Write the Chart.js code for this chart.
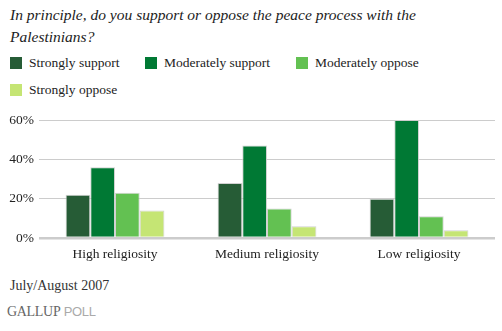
<!DOCTYPE html>
<html>
<head>
<meta charset="utf-8">
<script src="https://cdn.jsdelivr.net/npm/chart.js@4/dist/chart.umd.min.js"></script>
<style>
  html, body { margin: 0; padding: 0; background: #fff; }
  body { width: 502px; height: 331px; position: relative; overflow: hidden;
         font-family: "Liberation Serif", "DejaVu Serif", serif; color: #222; }
  #title { position: absolute; left: 10px; top: 4px; width: 480px;
           font-style: italic; font-size: 15.5px; line-height: 22px; color: #222; }
  #legend { position: absolute; left: 10px; top: 55px; width: 490px; }
  .item { position: absolute; font-size: 13.5px; line-height: 16px; white-space: nowrap; color: #222; }
  .item span.box { position: absolute; left: 0; top: 2px; width: 12px; height: 12px; }
  .item span.txt { position: absolute; left: 19px; top: 0; }
  #wrap { position: absolute; left: 0; top: 100px; width: 502px; height: 170px; }
  #date { position: absolute; left: 10px; top: 278px; font-size: 14px; color: #333; }
  #brand { position: absolute; left: 7px; top: 304px; font-size: 14px; letter-spacing: -0.3px; }
  #brand .g { font-family: "Liberation Serif", serif; color: #666; }
  #brand .p { font-family: "Liberation Sans", sans-serif; color: #aaa; font-size: 13px; }
</style>
</head>
<body>
<div id="title">In principle, do you support or oppose the peace process with the<br>Palestinians?</div>
<div id="legend"></div>
<div id="wrap"><canvas id="c"></canvas></div>
<div id="date">July/August 2007</div>
<div id="brand"><span class="g">GALLUP</span> <span class="p">POLL</span></div>
<script>
// Religiosity groups along the x axis
const categories = ["High religiosity", "Medium religiosity", "Low religiosity"];

// Percent of respondents in each group
const stronglySupport   = [22, 28, 20];
const moderatelySupport = [36, 47, 60];
const moderatelyOppose  = [23, 15, 11];
const stronglyOppose    = [14, 6, 4];

const seriesNames = ["Strongly support", "Moderately support", "Moderately oppose", "Strongly oppose"];
const seriesColors = ["#265c36", "#007934", "#63c152", "#c5e574"];

// Y axis ticks
const yTicks = [0, 20, 40, 60];

const seriesValues = [stronglySupport, moderatelySupport, moderatelyOppose, stronglyOppose];

// Legend: three items on the first row, the fourth wraps
const legendPos = [[0, 0], [135, 0], [286, 0], [0, 27]];
const legendEl = document.getElementById('legend');
seriesNames.forEach((name, i) => {
  const d = document.createElement('div');
  d.className = 'item';
  d.style.left = legendPos[i][0] + 'px';
  d.style.top = legendPos[i][1] + 'px';
  d.innerHTML = '<span class="box" style="background:' + seriesColors[i] + '"></span><span class="txt"></span>';
  d.querySelector('.txt').textContent = name;
  legendEl.appendChild(d);
});

const serif = "'Liberation Serif', 'DejaVu Serif', serif";

new Chart(document.getElementById('c'), {
  type: 'bar',
  data: {
    labels: categories,
    datasets: seriesNames.map((name, i) => ({
      label: name,
      data: seriesValues[i],
      backgroundColor: seriesColors[i],
      borderColor: 'rgba(205,205,205,0.9)',
      borderWidth: 1,
      barPercentage: 1.0,
      categoryPercentage: 0.65
    }))
  },
  options: {
    responsive: true,
    maintainAspectRatio: false,
    animation: false,
    layout: { padding: { top: 20, right: 7, left: 0, bottom: 0 } },
    plugins: {
      legend: { display: false },
      title: { display: false },
      tooltip: { enabled: false }
    },
    scales: {
      x: {
        grid: { display: false, drawTicks: false },
        border: { display: false },
        ticks: { color: '#222', font: { family: serif, size: 13.5 }, padding: 8 },
        afterFit: (s) => { s.height = 32; }
      },
      y: {
        min: 0,
        max: 60,
        afterBuildTicks: (s) => { s.ticks = yTicks.map(v => ({ value: v })); },
        grid: {
          color: '#cccccc',
          lineWidth: (ctx) => (ctx.tick && ctx.tick.value === 0 ? 2.5 : 1),
          drawTicks: false
        },
        border: { display: false },
        ticks: {
          color: '#222',
          font: { family: serif, size: 13.5 },
          padding: 5,
          callback: (v) => v + '%'
        },
        afterFit: (s) => { s.width = 39; }
      }
    }
  }
});
</script>
</body>
</html>
